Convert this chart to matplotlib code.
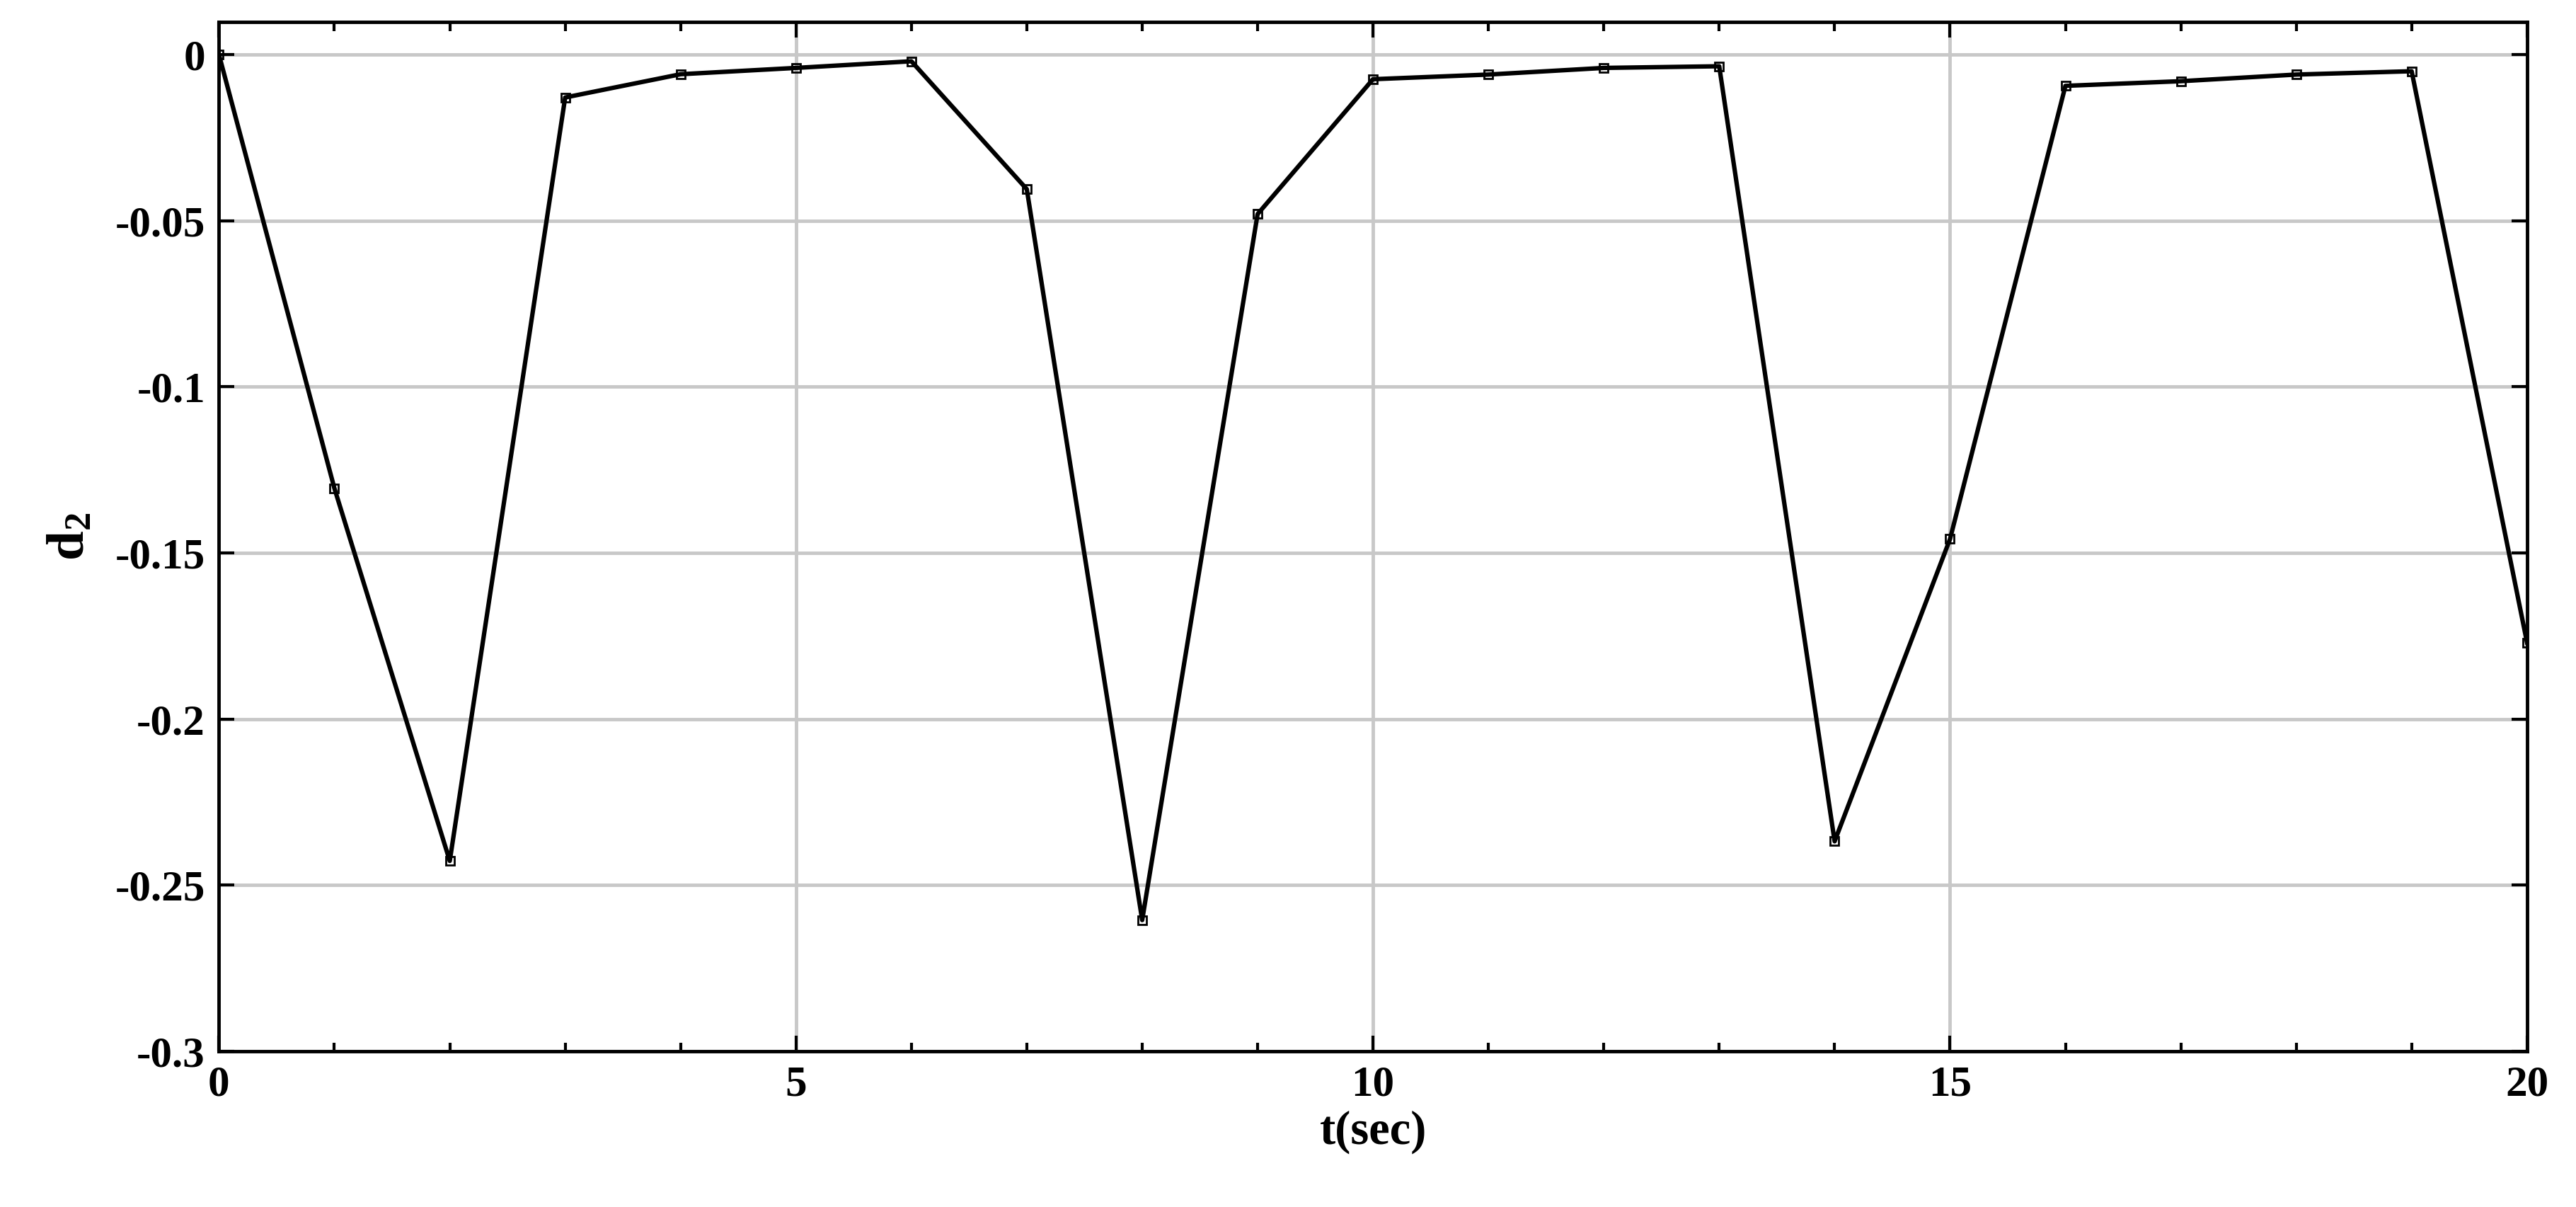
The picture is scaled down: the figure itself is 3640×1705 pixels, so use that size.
import matplotlib.pyplot as plt

t = list(range(21))
d2 = [0, -0.1305, -0.2427, -0.0129, -0.0059, -0.004, -0.002, -0.0405, -0.2605, -0.048,
      -0.0074, -0.006, -0.004, -0.0035, -0.2368, -0.1458, -0.0094, -0.008, -0.006, -0.005, -0.177]
xticks = [0, 5, 10, 15, 20]
yticks = [0, -0.05, -0.1, -0.15, -0.2, -0.25, -0.3]
ylabels = ['0', '-0.05', '-0.1', '-0.15', '-0.2', '-0.25', '-0.3']

plt.rcParams['font.family'] = ['Liberation Serif', 'DejaVu Serif']
plt.rcParams['font.weight'] = 'bold'
plt.rcParams['mathtext.fontset'] = 'custom'
plt.rcParams['mathtext.rm'] = 'Liberation Serif:bold'
plt.rcParams['mathtext.bf'] = 'Liberation Serif:bold'
plt.rcParams['mathtext.it'] = 'Liberation Serif:bold'

fig = plt.figure(figsize=(36.4, 17.05), dpi=100)
ax = fig.add_axes([0.085, 0.129, 0.896, 0.853])

ax.plot(t, d2, color='k', linewidth=4.5, marker='s', markersize=8,
        markerfacecolor='none', markeredgewidth=2)

ax.set_xlim(0, 20)
ax.set_ylim(-0.3, 0.0099)
ax.set_xticks(xticks)
ax.set_xticks(range(21), minor=True)
ax.set_yticks(yticks)
ax.set_yticklabels(ylabels)
ax.grid(True, which='major', color='#c8c8c8', linewidth=3.5)
ax.tick_params(which='both', direction='in', top=True, right=True, labelsize=44,
               width=3, length=16, pad=14)
ax.tick_params(which='minor', length=9)
for s in ax.spines.values():
    s.set_linewidth(3.5)
ax.set_xlabel('t(sec)', fontsize=48, fontweight='bold', labelpad=6)
ax.set_ylabel(r'$\mathrm{d_2}$', fontsize=54, labelpad=20)

fig.savefig('out.png')
